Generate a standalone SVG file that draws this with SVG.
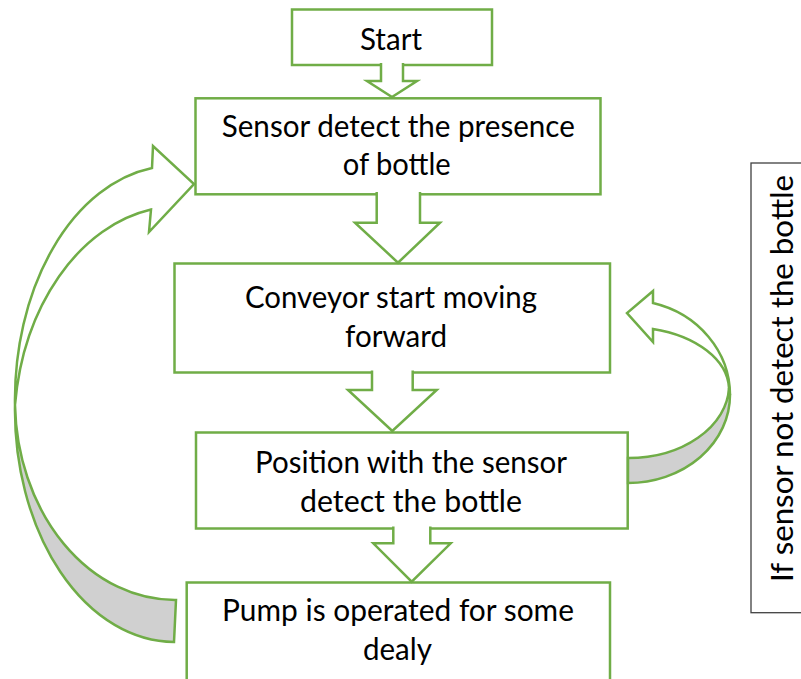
<svg xmlns="http://www.w3.org/2000/svg" width="801" height="679" viewBox="0 0 801 679">
<style>
  .box { fill: #ffffff; stroke: #70AD47; stroke-width: 2.5; }
  .blk { fill: #ffffff; stroke: #70AD47; stroke-width: 2.5; stroke-linejoin: miter; }
  .back { fill: #D0D0D0; stroke: #70AD47; stroke-width: 2.5; }
  .lbl { font-family: Lato, "Liberation Sans", sans-serif; font-size: 30px; fill: #000000; text-anchor: middle; }
  .note { fill: #ffffff; stroke: #404040; stroke-width: 1.3; }
</style>
<rect width="801" height="679" fill="#ffffff"/>

<g id="start">
  <rect class="box" x="292" y="9.5" width="200" height="55.5"/>
  <text class="lbl" x="391" y="50" textLength="62" lengthAdjust="spacingAndGlyphs">Start</text>
</g>
<g id="sensor">
  <rect class="box" x="195.5" y="98.3" width="405" height="96"/>
  <text class="lbl" x="398.3" y="136.7" textLength="353" lengthAdjust="spacingAndGlyphs">Sensor detect the presence</text>
  <text class="lbl" x="396.7" y="175" textLength="108" lengthAdjust="spacingAndGlyphs">of bottle</text>
</g>
<g id="conveyor">
  <rect class="box" x="174.5" y="263.5" width="435.5" height="109"/>
  <text class="lbl" x="391" y="308.3" textLength="292" lengthAdjust="spacingAndGlyphs">Conveyor start moving</text>
  <text class="lbl" x="396" y="346.7" textLength="102" lengthAdjust="spacingAndGlyphs">forward</text>
</g>
<g id="position">
  <rect class="box" x="196" y="432.5" width="431.7" height="96"/>
  <text class="lbl" x="411" y="473.3" textLength="312" lengthAdjust="spacingAndGlyphs">Position with the sensor</text>
  <text class="lbl" x="411" y="511.7" textLength="222" lengthAdjust="spacingAndGlyphs">detect the bottle</text>
</g>
<g id="pump">
  <rect class="box" x="186.7" y="582.5" width="423.3" height="130"/>
  <text class="lbl" x="398" y="621" textLength="352" lengthAdjust="spacingAndGlyphs">Pump is operated for some</text>
  <text class="lbl" x="397.5" y="659.5" textLength="69" lengthAdjust="spacingAndGlyphs">dealy</text>
</g>
<g id="note">
  <rect class="note" x="751" y="163" width="70" height="449.7"/>
  <text class="lbl" transform="translate(793,378.5) rotate(-90)" textLength="407" lengthAdjust="spacingAndGlyphs">If sensor not detect the bottle</text>
</g>

<g id="connectors">
  <path class="blk" d="M381,63 L381,81 L367,81 L392,97 L417,81 L403,81 L403,63"/>
  <path class="blk" d="M376.7,192 L376.7,222.7 L355,222.7 L398,262.7 L440,222.7 L420,222.7 L420,192"/>
  <path class="blk" d="M372,370.5 L372,390 L348,390 L392.3,431 L436.7,390 L412.7,390 L412.7,370.5"/>
  <path class="blk" d="M393.3,526.5 L393.3,543.3 L373.3,543.3 L411.7,581.7 L450.7,543.3 L430.3,543.3 L430.3,526.5"/>

  <g id="loop-left">
    <path class="back" d="M15,405 A160 232 0 0 0 174,642 L176,600 A160 200 0 0 1 15,405 Z"/>
    <path class="blk" d="M15,405 A160 234 0 0 1 152,168 L153,146 L194,184 L149,232 L151,209.5 A165 224 0 0 0 15,405 Z"/>
  </g>
  <g id="loop-right">
    <path class="back" d="M628,483 A102 88 0 0 0 730,395 L729,388 A101 73 0 0 1 628,458 Z"/>
    <path class="blk" d="M730,395 A102 95 0 0 0 653,303 L653,291 L627,313 L653,342 L653,329 A101 63 0 0 1 729,388 Z"/>
  </g>
</g>
</svg>
